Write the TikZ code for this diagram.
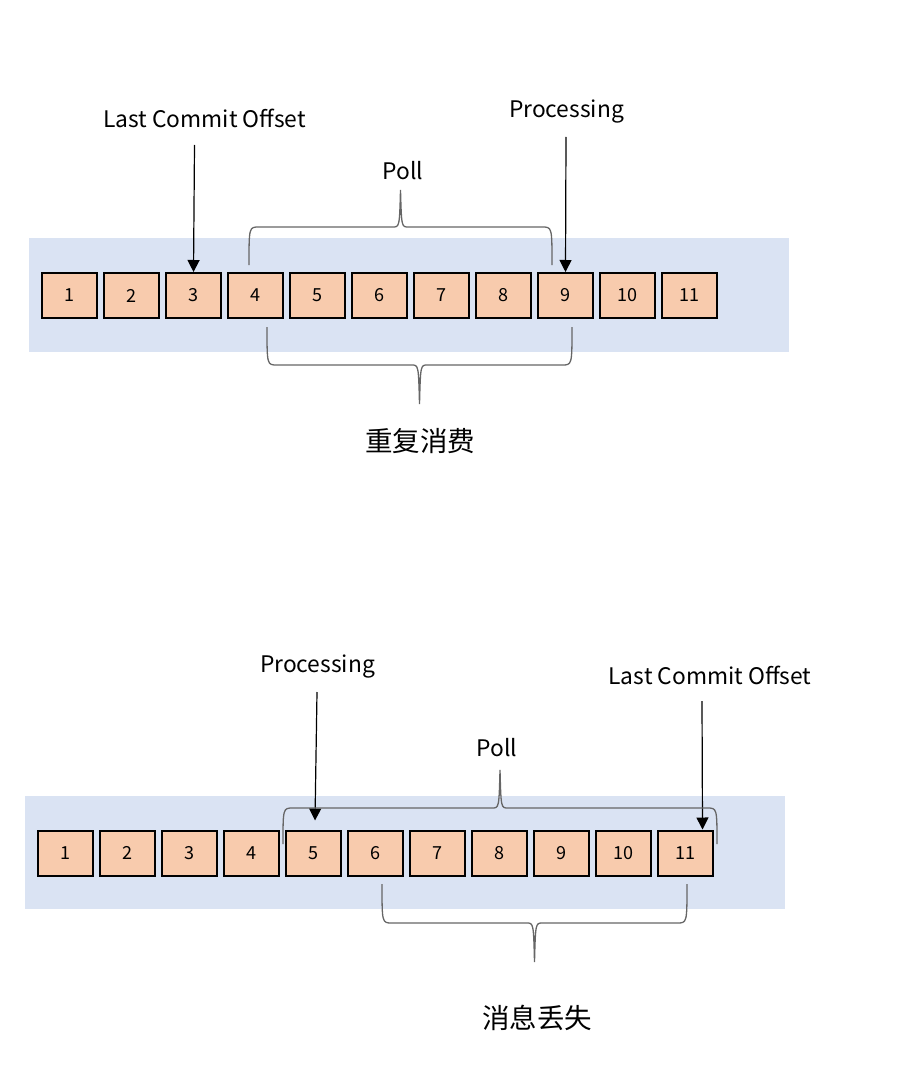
\documentclass[tikz,border=0pt]{standalone}
\usepackage{fontspec}
\setmainfont{Noto Sans CJK SC}
\usetikzlibrary{arrows.meta}
\definecolor{bgblue}{HTML}{DAE3F3}
\definecolor{cellfill}{HTML}{F8CBAD}
\definecolor{bracegray}{HTML}{666666}
% brace: left x, right x, end y, bar y, tip y
\newcommand{\curlybrace}[5]{%
  \pgfmathsetmacro{\bm}{(#1+#2)/2}%
  \draw[bracestyle] (#1,#3) .. controls (#1,#4) .. (#1+10,#4) -- (\bm-8,#4)
    .. controls (\bm-1,#4) .. (\bm,#5) .. controls (\bm+1,#4) .. (\bm+8,#4)
    -- (#2-10,#4) .. controls (#2,#4) .. (#2,#3);}
\begin{document}
\begin{tikzpicture}[x=1pt,y=-1pt,
    cell/.style={draw,line width=2pt,fill=cellfill,minimum width=55pt,minimum height=45pt,inner sep=0pt,font=\fontsize{18}{21}\selectfont},
    ptr/.style={-{Triangle[width=12pt,length=12pt]},line width=1.2pt},
    tag/.style={font=\fontsize{22.8}{27}\selectfont},
    note/.style={font=\fontsize{27.5}{32}\selectfont},
    bracestyle/.style={draw=bracegray,line width=1.3pt}]
    \useasboundingbox (0,0) rectangle (914,1078);
    % upper row
    \fill[bgblue] (29,238) rectangle (789,352);
    \foreach \i in {1,...,11}
        \node[cell] (a\i) at ({69.5+62*(\i-1)},295.5) {\i};
    \node[tag] (lco1) at (204.5,118) {Last Commit Offset};
    \node[tag] (proc1) at (566.5,111.5) {Processing};
    \node[tag] (poll1) at (403,171) {Poll};
    \node[note] (dup) at (420,441) {重复消费};
    \coordinate (s1) at (194.5,145);
    \coordinate (s2) at (566,137);
    \draw[ptr] (s1) -- (a3.north);
    \draw[ptr] (s2) -- (a9.north);
    \curlybrace{249}{552}{265}{227}{190}
    \curlybrace{267}{572}{327}{365}{404}
    % lower row
    \fill[bgblue] (25,796) rectangle (785,909);
    \foreach \i in {1,...,11}
        \node[cell] (b\i) at ({65.5+62*(\i-1)},853) {\i};
    \node[tag] (proc2) at (317.5,666.5) {Processing};
    \node[tag] (lco2) at (710,675.5) {Last Commit Offset};
    \node[tag] (poll2) at (497,748) {Poll};
    \node[note] (lost) at (537,1018) {消息丢失};
    \coordinate (s3) at (317,692);
    \coordinate (s4) at (702,701);
    \draw[ptr] (s3) -- ([yshift=9pt,xshift=1.5pt]b5.north);
    \draw[ptr] (s4) -- ([xshift=17pt]b11.north);
    \curlybrace{283}{717}{844}{808}{770}
    \curlybrace{382}{687}{884}{923}{962}
\end{tikzpicture}
\end{document}
